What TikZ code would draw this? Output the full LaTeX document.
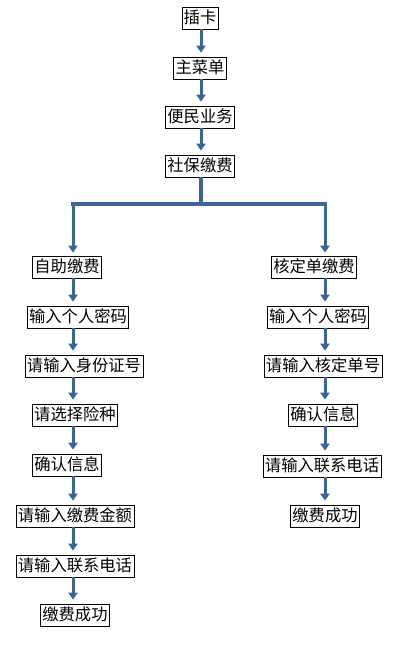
\documentclass[tikz,border=0pt]{standalone}
\usepackage{fontspec}
\newfontfamily\cjk{Noto Sans CJK SC}
\usetikzlibrary{arrows.meta}
\definecolor{arrblue}{RGB}{62,100,150}
\tikzset{
  box/.style={draw=black, line width=0.7pt, fill=white, font=\cjk\fontsize{16.3}{18}\selectfont,
    inner xsep=1.8pt, inner ysep=0pt, minimum height=22pt, text height=14pt, text depth=3.5pt},
  arr/.style={draw=arrblue, line width=3pt, -{Triangle[width=9pt,length=7pt]}},
  bar/.style={draw=arrblue, line width=3.5pt}
}
\begin{document}
\begin{tikzpicture}[x=1pt,y=-1pt]
\useasboundingbox (0,0) rectangle (400,657);
% main column
\node[box] (n1) at (200,18) {插卡};
\node[box] (n2) at (200,68) {主菜单};
\node[box] (n3) at (200,117) {便民业务};
\node[box] (n4) at (200,166) {社保缴费};
% branches
\node[box] (a0) at (67,267) {自助缴费};
\node[box] (b0) at (314,267) {核定单缴费};
% left column
\node[box] (a1) at (78,317) {输入个人密码};
\node[box] (a2) at (84,366) {请输入身份证号};
\node[box] (a3) at (75,415) {请选择险种};
\node[box] (a4) at (67,465) {确认信息};
\node[box] (a5) at (75,516) {请输入缴费金额};
\node[box] (a6) at (75,566) {请输入联系电话};
\node[box] (a7) at (75,615) {缴费成功};
% right column
\node[box] (b1) at (318,317) {输入个人密码};
\node[box] (b2) at (323,366) {请输入核定单号};
\node[box] (b3) at (323,415) {确认信息};
\node[box] (b4) at (322,466) {请输入联系电话};
\node[box] (b5) at (325,516) {缴费成功};
% column lines
\coordinate (C) at (201,0);
\coordinate (L) at (73,0);
\coordinate (R) at (325,0);
\coordinate (J) at (201,204);
\coordinate (JL) at (73,204);
\coordinate (JR) at (325,204);
% arrows main
\draw[arr] (n1.south -| C) -- ([yshift=4pt]n2.north -| C);
\draw[arr] (n2.south -| C) -- ([yshift=4pt]n3.north -| C);
\draw[arr] (n3.south -| C) -- ([yshift=4pt]n4.north -| C);
\draw[bar] (n4.south -| C) -- (J);
\draw[bar] ([xshift=-1.75pt]JL) -- ([xshift=1.75pt]JR);
\draw[arr] (JL) -- ([yshift=3pt]a0.north -| L);
\draw[arr] (JR) -- ([yshift=3pt]b0.north -| R);
% left arrows
\foreach \p/\q in {a0/a1,a1/a2,a2/a3,a3/a4,a4/a5,a5/a6,a6/a7}
  \draw[arr] (\p.south -| L) -- ([yshift=4pt]\q.north -| L);
% right arrows
\foreach \p/\q in {b0/b1,b1/b2,b2/b3,b3/b4,b4/b5}
  \draw[arr] (\p.south -| R) -- ([yshift=4pt]\q.north -| R);
\end{tikzpicture}
\end{document}
